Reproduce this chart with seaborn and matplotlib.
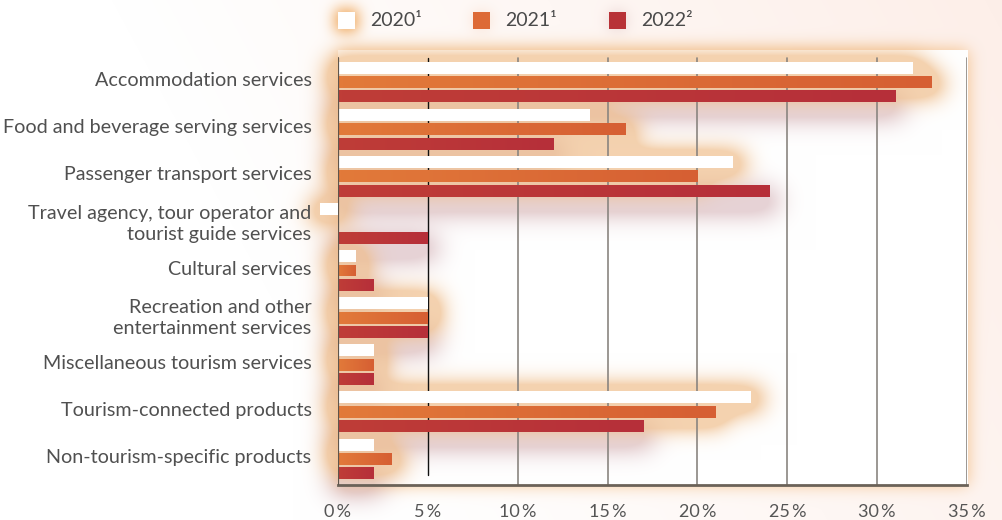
import numpy as np
import pandas as pd
import matplotlib
matplotlib.use("Agg")
import matplotlib.pyplot as plt
import seaborn as sns
from matplotlib.patches import Rectangle
from matplotlib import transforms

categories = [
    "Accommodation services",
    "Food and beverage serving services",
    "Passenger transport services",
    "Travel agency, tour operator and\ntourist guide services",
    "Cultural services",
    "Recreation and other\nentertainment services",
    "Miscellaneous tourism services",
    "Tourism-connected products",
    "Non-tourism-specific products",
]
years = ["2020¹", "2021¹", "2022²"]
v2020 = [32, 14, 22, -1, 1, 5, 2, 23, 2]
v2021 = [33, 16, 20, 0, 1, 5, 2, 21, 3]
v2022 = [31, 12, 24, 5, 2, 5, 2, 17, 2]
xticks = [0, 5, 10, 15, 20, 25, 30, 35]
colors = ["#ffffff", "#dd6a36", "#b83237"]
grad_ends = [None, ("#e27a3a", "#d65f33"), ("#bf3d37", "#b62f3a")]

rows = []
for yr, vals in zip(years, [v2020, v2021, v2022]):
    for c, v in zip(categories, vals):
        rows.append({"category": c, "year": yr, "value": v})
df = pd.DataFrame(rows)

sns.set_theme(style="white")
plt.rcParams["font.family"] = ["Lato", "DejaVu Sans"]

W, H = 1003, 520
fig = plt.figure(figsize=(W / 100, H / 100), dpi=100)
fig.patch.set_facecolor("white")

top_px, bot_px = 50, 485
ax = fig.add_axes([338 / W, 1 - bot_px / H, (967 - 338) / W, (bot_px - top_px) / H])
ax.set_facecolor("none")

sns.barplot(data=df, y="category", x="value", hue="year", palette=colors,
            orient="h", width=0.92, gap=0.17, ax=ax, legend=False,
            saturation=1, edgecolor="none", linewidth=0, zorder=3)

ytop = -32 / 47.1
ybot = 8 + 26 / 47.1
ax.set_xlim(0, 35)
ax.set_ylim(ybot, ytop)

# ---------- soft glow background (rendered as an image) ----------
def blur(m, s):
    r = int(3 * s)
    xk = np.arange(-r, r + 1)
    k = np.exp(-xk ** 2 / (2 * s * s))
    k /= k.sum()
    m = np.apply_along_axis(lambda v: np.convolve(v, k, mode="same"), 1, m)
    m = np.apply_along_axis(lambda v: np.convolve(v, k, mode="same"), 0, m)
    return m

def fill(mask, x0, y0, x1, y1):
    x0, x1 = int(round(max(0, x0))), int(round(min(W, x1)))
    y0, y1 = int(round(max(0, y0))), int(round(min(H, y1)))
    mask[y0:y1, x0:x1] = 1.0

def blend(img, mask, color, strength, cap=0.8):
    c = np.array(matplotlib.colors.to_rgb(color))
    a = np.clip(mask * strength, 0, cap)[..., None]
    return img * (1 - a) + c[None, None, :] * a

xx, yy = np.meshgrid(np.linspace(0, 1, W), np.linspace(0, 1, H))
g = np.clip(xx * 0.9 + (1 - yy) * 0.25 - 0.35, 0, 1)
img = np.ones((H, W, 3)) * (1 - g[..., None]) + np.array([0.99, 0.92, 0.89])[None, None, :] * g[..., None]

# panel glow
pm = np.zeros((H, W))
fill(pm, 338, 50, 968, 485)
img = blend(img, blur(pm, 8), "#f3c08a", 1.0)
pmask = np.zeros((H, W), bool)
pmask[50:485, 338:968] = True
img[pmask] = 1.0

# bar glows
warm = np.zeros((H, W))
cool = np.zeros((H, W))
nb = len(categories)
for i, p in enumerate(ax.patches):
    p.set_clip_on(False)
    if p.get_width() == 0:
        continue
    (dx0, dy0), (dx1, dy1) = ax.transData.transform(
        [(p.get_x(), p.get_y()), (p.get_x() + p.get_width(), p.get_y() + p.get_height())])
    px0, px1 = sorted([dx0, dx1])
    py0, py1 = sorted([H - dy0, H - dy1])
    if i // nb == 2:
        fill(cool, px0 - 6, py0 + 6, px1 + 8, py1 + 14)
    else:
        fill(warm, px0 - 8, py0 - 2, px1 + 10, py1 + 6)
img = blend(img, blur(cool, 13), "#c4959c", 1.0, cap=0.42)
img = blend(img, blur(warm, 12), "#efbd8a", 1.9, cap=0.68)

# legend squares glow
leg_x = [338, 473, 609]
lm = np.zeros((H, W))
fill(lm, leg_x[0] - 3, 9, leg_x[0] + 20, 32)
img = blend(img, blur(lm, 7), "#f2b677", 1.3)
lm2 = np.zeros((H, W))
fill(lm2, leg_x[1], 12, leg_x[1] + 17, 29)
img = blend(img, blur(lm2, 7), "#f0b088", 0.35)
lm3 = np.zeros((H, W))
fill(lm3, leg_x[2], 12, leg_x[2] + 17, 29)
img = blend(img, blur(lm3, 7), "#c08a8a", 0.35)

bg = fig.add_axes([0, 0, 1, 1], zorder=-10)
bg.imshow(img, aspect="auto", extent=[0, 1, 0, 1], origin="upper", interpolation="bilinear")
bg.set_xlim(0, 1)
bg.set_ylim(0, 1)
bg.axis("off")

# horizontal colour gradient on the coloured bars
for i, p in enumerate(list(ax.patches)):
    ends = grad_ends[i // nb]
    if ends is None or p.get_width() == 0:
        continue
    c0 = np.array(matplotlib.colors.to_rgb(ends[0]))
    c1 = np.array(matplotlib.colors.to_rgb(ends[1]))
    t = np.linspace(0, 1, 64)[None, :, None]
    grad = c0 * (1 - t) + c1 * t
    x0, y0 = p.get_x(), p.get_y()
    im = ax.imshow(grad, extent=[x0, x0 + p.get_width(), y0 + p.get_height(), y0],
                   aspect="auto", zorder=3.5, interpolation="bilinear")
    im.set_clip_path(p)
ax.set_xlim(0, 35)
ax.set_ylim(ybot, ytop)

# ---------- ticks, labels ----------
ax.set_xticks(xticks)
ax.set_xticklabels([f"{t}\u2009%" for t in xticks], fontsize=13, color="#555555")
ax.tick_params(axis="x", length=0, pad=14)
ax.tick_params(axis="y", length=0, pad=19)
off = transforms.ScaledTranslation(0, 3 / 100, fig.dpi_scale_trans)
for lab in ax.get_yticklabels():
    lab.set_fontsize(14.2)
    lab.set_color("#505050")
    lab.set_horizontalalignment("right")
    lab.set_multialignment("right")
    lab.set_linespacing(1.3)
    lab.set_transform(lab.get_transform() + off)
ax.set_xlabel("")
ax.set_ylabel("")

# gridlines
gtop = -24 / 47.1
for t in xticks[1:]:
    if t == 5:
        ax.plot([t, t], [gtop, 8 + 16 / 47.1], color="#111111", lw=1.0, zorder=2)
    else:
        ax.plot([t, t], [gtop, ybot], color="#8a8580", lw=1.2, zorder=2)
ax.plot([0, 0], [gtop, ybot], color="#5e554c", lw=1.6, zorder=4)

for s in ["top", "right", "left"]:
    ax.spines[s].set_visible(False)
ax.spines["bottom"].set_color("#6b6258")
ax.spines["bottom"].set_linewidth(2)

# legend (manual)
for xpx, lab, col in zip(leg_x, years, colors):
    fig.patches.append(Rectangle((xpx / W, 1 - 29 / H), 17 / W, 17 / H, facecolor=col,
                                 edgecolor="none", transform=fig.transFigure, figure=fig,
                                 zorder=5))
    fig.text((xpx + 32) / W, 1 - 21 / H, lab, fontsize=14, color="#4a4a4a",
             va="center", ha="left")

fig.savefig("out.png", dpi=100)
